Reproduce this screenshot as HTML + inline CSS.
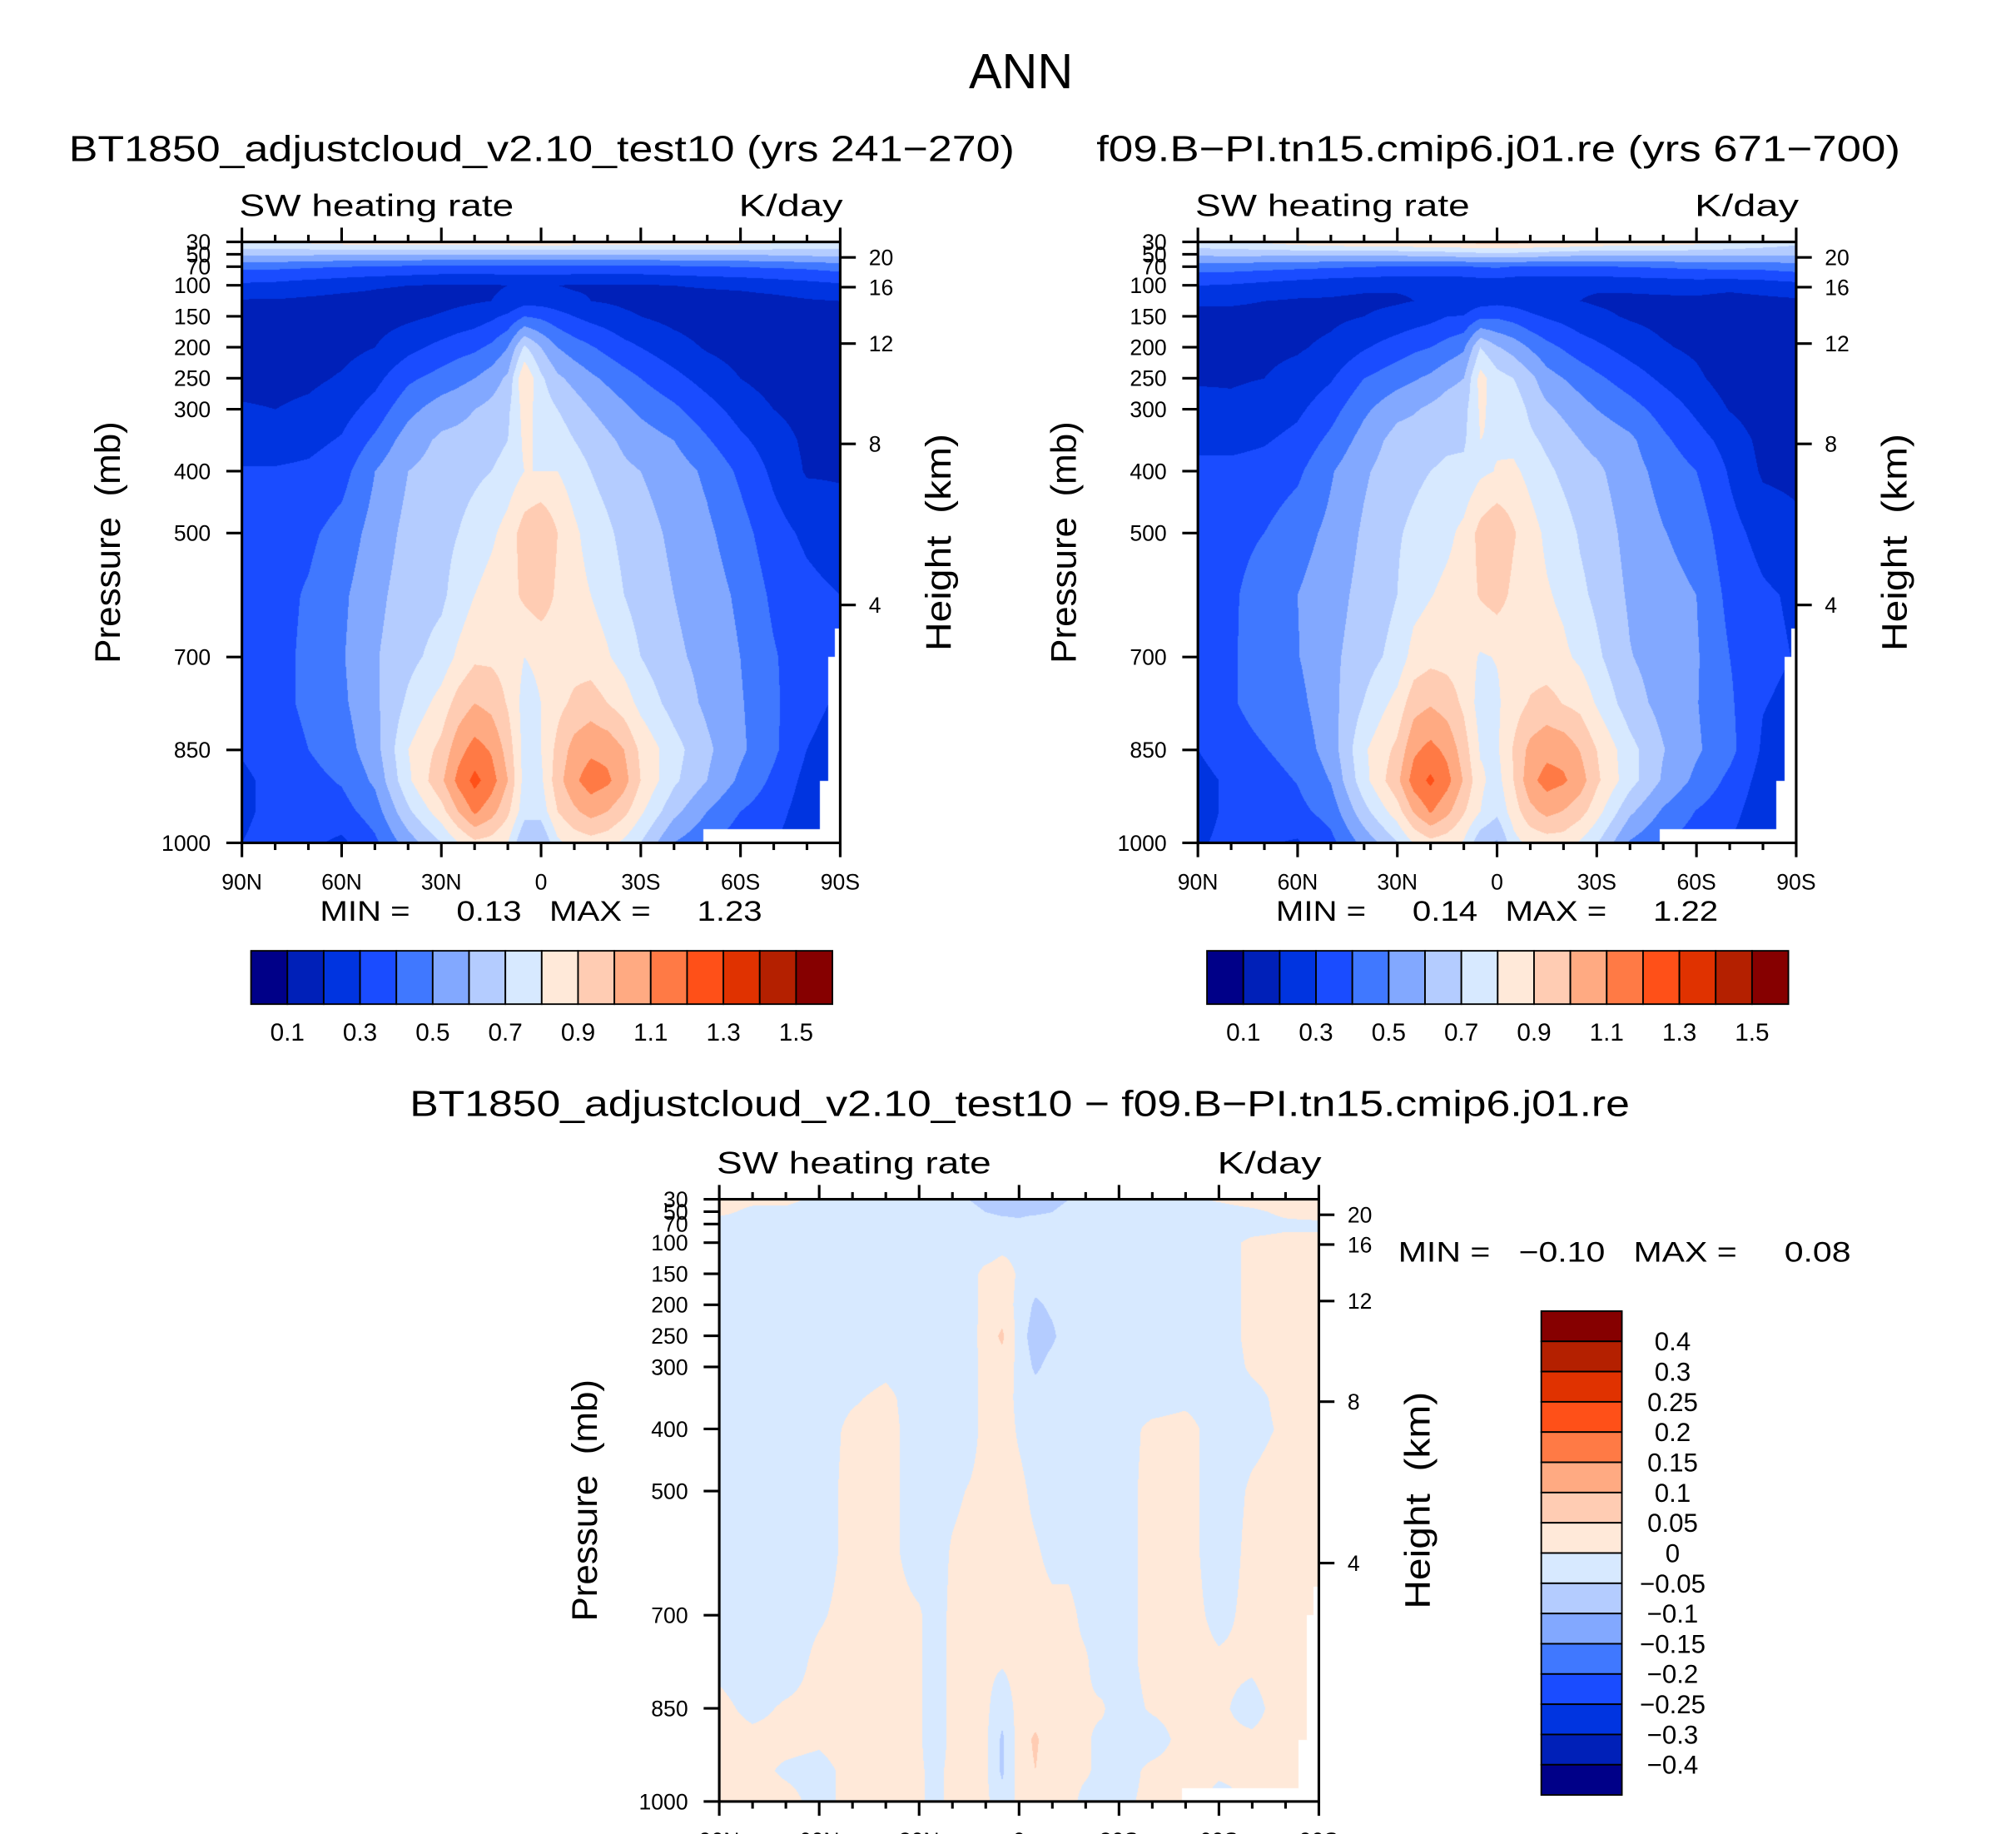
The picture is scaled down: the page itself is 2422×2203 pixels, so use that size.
<!DOCTYPE html>
<html><head><meta charset="utf-8">
<style>
html,body{margin:0;padding:0;background:#fff;}
#page{position:relative;width:2422px;height:2203px;overflow:hidden;background:#fff;}
canvas{position:absolute;}
svg{position:absolute;left:0;top:0;}
text{font-family:"Liberation Sans",sans-serif;fill:#000;white-space:pre;}
</style></head>
<body>
<div id="page">
<canvas id="c1"></canvas>
<canvas id="c2"></canvas>
<canvas id="c3"></canvas>
<svg id="svg" width="2422" height="2203" viewBox="0 0 1550 1410" preserveAspectRatio="none"></svg>
</div>
<script>
// ---------- data ----------
const lats=[90,80,70,60,50,40,30,25,20,15,10,5,0,-5,-10,-15,-20,-25,-30,-40,-50,-60,-70,-80,-90];
const pres=[30,50,70,100,125,150,200,250,300,350,400,500,600,700,775,850,900,950,1000];
// Panel 1 values (K/day), one array per latitude column, top (30mb) to bottom (1000mb)
const p1_90N=[0.8,0.62,0.42,0.28,0.19,0.16,0.15,0.17,0.21,0.25,0.31,0.34,0.35,0.35,0.34,0.31,0.28,0.28,0.3];
const p1_80N=[0.8,0.62,0.42,0.27,0.19,0.16,0.15,0.17,0.2,0.25,0.31,0.36,0.37,0.37,0.37,0.35,0.33,0.33,0.34];
const p1_70N=[0.82,0.61,0.41,0.25,0.18,0.16,0.16,0.18,0.22,0.27,0.32,0.38,0.41,0.42,0.42,0.4,0.37,0.35,0.32];
const p1_60N=[0.84,0.6,0.4,0.23,0.17,0.15,0.17,0.21,0.26,0.31,0.36,0.44,0.48,0.49,0.48,0.45,0.41,0.36,0.28];
const p1_50N=[0.85,0.6,0.39,0.21,0.17,0.16,0.2,0.27,0.34,0.42,0.5,0.54,0.57,0.59,0.58,0.56,0.52,0.45,0.38];
const p1_40N=[0.86,0.6,0.38,0.2,0.16,0.18,0.27,0.38,0.47,0.55,0.6,0.63,0.65,0.67,0.72,0.8,0.78,0.68,0.55];
const p1_30N=[0.86,0.6,0.37,0.19,0.17,0.21,0.33,0.44,0.55,0.62,0.64,0.67,0.68,0.74,0.84,0.93,0.98,0.86,0.7];
const p1_25N=[0.86,0.6,0.37,0.19,0.18,0.23,0.36,0.47,0.57,0.63,0.66,0.7,0.74,0.82,0.94,1.06,1.13,1.0,0.8];
const p1_20N=[0.86,0.6,0.37,0.19,0.19,0.25,0.38,0.5,0.6,0.64,0.68,0.74,0.8,0.88,1.0,1.14,1.23,1.12,0.88];
const p1_15N=[0.86,0.6,0.37,0.19,0.2,0.28,0.42,0.55,0.63,0.66,0.7,0.78,0.84,0.88,0.97,1.09,1.15,1.04,0.86];
const p1_10N=[0.86,0.6,0.37,0.2,0.22,0.32,0.5,0.62,0.68,0.7,0.74,0.84,0.86,0.86,0.89,0.96,1.0,0.92,0.8];
const p1_5N=[0.87,0.6,0.37,0.21,0.26,0.4,0.72,0.9,0.84,0.82,0.8,0.95,0.92,0.8,0.76,0.76,0.76,0.74,0.6];
const p1_EQ=[0.87,0.6,0.37,0.21,0.26,0.38,0.6,0.72,0.76,0.78,0.8,1.0,0.96,0.82,0.8,0.8,0.78,0.74,0.6];
const p1_5S=[0.87,0.6,0.37,0.2,0.24,0.34,0.5,0.62,0.7,0.75,0.8,0.9,0.88,0.84,0.87,0.93,0.96,0.9,0.78];
const p1_10S=[0.86,0.6,0.37,0.19,0.22,0.3,0.45,0.57,0.65,0.7,0.75,0.82,0.84,0.86,0.92,1.04,1.08,0.98,0.84];
const p1_15S=[0.86,0.6,0.37,0.19,0.2,0.27,0.41,0.52,0.6,0.66,0.7,0.76,0.8,0.85,0.95,1.08,1.15,1.04,0.86];
const p1_20S=[0.86,0.6,0.37,0.19,0.19,0.25,0.37,0.48,0.56,0.62,0.66,0.72,0.76,0.81,0.9,1.07,1.12,1.0,0.84];
const p1_25S=[0.86,0.6,0.37,0.19,0.18,0.22,0.33,0.44,0.52,0.58,0.62,0.67,0.7,0.76,0.85,1.0,1.04,0.93,0.78];
const p1_30S=[0.86,0.6,0.37,0.19,0.17,0.2,0.3,0.4,0.48,0.55,0.6,0.64,0.66,0.7,0.77,0.88,0.9,0.82,0.7];
const p1_40S=[0.86,0.6,0.38,0.2,0.16,0.17,0.24,0.33,0.42,0.5,0.55,0.58,0.6,0.62,0.66,0.74,0.72,0.63,0.5];
const p1_50S=[0.85,0.6,0.39,0.21,0.16,0.15,0.19,0.26,0.34,0.41,0.48,0.52,0.55,0.57,0.58,0.62,0.6,0.5,0.42];
const p1_60S=[0.84,0.6,0.4,0.22,0.16,0.14,0.16,0.2,0.26,0.32,0.38,0.44,0.48,0.5,0.51,0.52,0.48,0.4,0.34];
const p1_70S=[0.82,0.61,0.41,0.24,0.17,0.14,0.14,0.16,0.2,0.25,0.28,0.34,0.38,0.41,0.42,0.42,0.38,0.34,0.3];
const p1_80S=[0.8,0.62,0.42,0.26,0.19,0.15,0.13,0.14,0.16,0.18,0.19,0.28,0.33,0.34,0.32,0.3,0.27,0.25,0.25];
const p1_90S=[0.78,0.63,0.44,0.28,0.2,0.16,0.14,0.14,0.15,0.17,0.19,0.24,0.3,0.31,0.29,0.27,0.25,0.24,0.24];
// Difference (panel1 - panel2), K/day
const d_90N=[0.02,0.01,-0.02,-0.02,-0.02,-0.02,-0.02,-0.02,-0.02,-0.02,-0.02,-0.02,-0.02,-0.02,-0.01,0.01,0.015,0.015,0.015];
const d_80N=[0.01,-0.01,-0.02,-0.02,-0.02,-0.02,-0.02,-0.02,-0.02,-0.02,-0.02,-0.02,-0.02,-0.02,-0.02,-0.01,0.01,0.01,0.01];
const d_70N=[0.01,-0.01,-0.02,-0.02,-0.02,-0.02,-0.02,-0.02,-0.02,-0.02,-0.02,-0.02,-0.02,-0.02,-0.02,0.005,0.01,-0.005,0.01];
const d_60N=[-0.01,-0.02,-0.02,-0.02,-0.02,-0.02,-0.02,-0.02,-0.02,-0.02,-0.02,-0.02,-0.02,-0.005,0.01,0.01,0.005,-0.01,-0.01];
const d_50N=[-0.02,-0.02,-0.02,-0.02,-0.02,-0.02,-0.02,-0.02,-0.02,-0.005,0.01,0.015,0.015,0.015,0.015,0.015,0.015,0.01,0.01];
const d_40N=[-0.03,-0.02,-0.02,-0.02,-0.02,-0.02,-0.02,-0.02,-0.01,0.01,0.015,0.015,0.015,0.015,0.015,0.015,0.015,0.015,0.015];
const d_30N=[-0.03,-0.02,-0.02,-0.02,-0.02,-0.02,-0.02,-0.02,-0.02,-0.02,-0.02,-0.02,-0.02,0.005,0.005,0.005,0.005,0.005,0.005];
const d_25N=[-0.04,-0.03,-0.02,-0.02,-0.02,-0.02,-0.02,-0.02,-0.02,-0.02,-0.02,-0.02,-0.02,-0.02,-0.02,-0.02,-0.02,-0.01,-0.01];
const d_20N=[-0.05,-0.03,-0.02,-0.02,-0.02,-0.02,-0.02,-0.02,-0.02,-0.02,-0.02,-0.01,0.005,0.01,0.01,0.01,0.01,0.01,0.01];
const d_15N=[-0.05,-0.04,-0.02,-0.02,-0.02,-0.02,-0.02,-0.02,-0.02,-0.02,-0.02,0.003,0.015,0.015,0.015,0.015,0.015,0.015,0.015];
const d_10N=[-0.06,-0.05,-0.02,-0.02,-0.01,0.015,0.015,0.02,0.015,0.015,0.015,0.015,0.015,0.01,0.01,0.01,0.01,0.01,0.01];
const d_5N=[-0.06,-0.06,-0.03,-0.02,0.005,0.02,0.02,0.06,0.025,0.02,0.02,0.015,0.01,0.01,0.005,-0.03,-0.06,-0.06,-0.03];
const d_EQ=[-0.06,-0.06,-0.04,-0.02,-0.01,-0.005,-0.01,-0.02,-0.01,-0.01,-0.005,0.01,0.015,0.015,0.015,0.015,0.02,0.02,0.01];
const d_5S=[-0.06,-0.06,-0.02,-0.02,-0.02,-0.02,-0.06,-0.08,-0.06,-0.02,-0.02,-0.01,0.005,0.015,0.015,0.02,0.06,0.05,0.015];
const d_10S=[-0.06,-0.05,-0.02,-0.02,-0.02,-0.02,-0.04,-0.06,-0.03,-0.02,-0.02,-0.02,-0.01,0.01,0.01,0.01,0.01,0.01,0.01];
const d_15S=[-0.05,-0.04,-0.02,-0.02,-0.02,-0.02,-0.02,-0.02,-0.02,-0.02,-0.02,-0.02,-0.01,0.01,0.01,0.01,0.01,0.01,0.01];
const d_20S=[-0.05,-0.03,-0.02,-0.02,-0.02,-0.02,-0.02,-0.02,-0.02,-0.02,-0.02,-0.02,-0.02,-0.01,0.005,0.005,0.005,0.005,-0.01];
const d_25S=[-0.03,-0.02,-0.02,-0.02,-0.02,-0.02,-0.02,-0.02,-0.02,-0.02,-0.02,-0.02,-0.02,-0.02,-0.02,0.005,-0.01,-0.01,-0.01];
const d_30S=[-0.02,-0.02,-0.02,-0.02,-0.02,-0.02,-0.02,-0.02,-0.02,-0.02,-0.02,-0.02,-0.02,-0.02,-0.02,-0.02,-0.02,-0.02,-0.01];
const d_40S=[-0.01,-0.02,-0.02,-0.02,-0.02,-0.02,-0.02,-0.02,-0.02,-0.02,0.01,0.015,0.015,0.015,0.015,0.005,-0.02,0.01,0.01];
const d_50S=[-0.01,-0.02,-0.02,-0.02,-0.02,-0.02,-0.02,-0.02,-0.02,-0.01,0.015,0.015,0.015,0.015,0.015,0.015,0.015,0.015,0.015];
const d_60S=[0.005,-0.02,-0.02,-0.02,-0.02,-0.02,-0.02,-0.02,-0.02,-0.02,-0.02,-0.02,-0.02,-0.01,0.005,0.005,0.005,0.005,-0.01];
const d_70S=[0.02,-0.01,-0.02,0.01,0.01,0.01,0.01,0.01,0.005,-0.01,-0.01,0.005,0.01,0.01,0.005,-0.01,0.005,0.005,0.005];
const d_80S=[0.03,0.01,-0.01,0.015,0.015,0.015,0.015,0.015,0.015,0.01,0.005,0.015,0.015,0.015,0.015,0.015,0.01,0.01,0.01];
const d_90S=[0.05,0.02,-0.01,0.015,0.015,0.015,0.015,0.015,0.015,0.015,0.015,0.015,0.015,0.015,0.015,0.015,0.015,0.015,0.015];
// below-surface mask (steps): lat <= maskLat[k] && p >= maskP[k]
const maskLat=[-48.9,-84.1,-86.5,-88.6];
const maskP=[979,901,700,654];
// contour levels & colours
const levelsAbs=[0.1,0.2,0.3,0.4,0.5,0.6,0.7,0.8,0.9,1.0,1.1,1.2,1.3,1.4,1.5];
const levelsDiff=[-0.4,-0.3,-0.25,-0.2,-0.15,-0.1,-0.05,0,0.05,0.1,0.15,0.2,0.25,0.3,0.4];
const palette=["#000088","#0020b8","#0034e0","#1a4cff","#4078ff","#82a8ff","#b4ccff","#d7e9ff","#ffe9d9","#ffccb3","#ffaa82","#ff7a45","#ff5018","#e03200","#b42000","#860000"];
const absTickLabels=["0.1","0.3","0.5","0.7","0.9","1.1","1.3","1.5"];
const diffTickLabels=["0.4","0.3","0.25","0.2","0.15","0.1","0.05","0","\u22120.05","\u22120.1","\u22120.15","\u22120.2","\u22120.25","\u22120.3","\u22120.4"];
const pTicks=[30,50,70,100,150,200,250,300,400,500,700,850,1000];
const hTicks=[20,16,12,8,4];
const hTickP=[55,103,194,356,616];
const latTickLabels=["90N","60N","30N","0","30S","60S","90S"];

const P1=[p1_90N,p1_80N,p1_70N,p1_60N,p1_50N,p1_40N,p1_30N,p1_25N,p1_20N,p1_15N,p1_10N,p1_5N,p1_EQ,p1_5S,p1_10S,p1_15S,p1_20S,p1_25S,p1_30S,p1_40S,p1_50S,p1_60S,p1_70S,p1_80S,p1_90S];
const D=[d_90N,d_80N,d_70N,d_60N,d_50N,d_40N,d_30N,d_25N,d_20N,d_15N,d_10N,d_5N,d_EQ,d_5S,d_10S,d_15S,d_20S,d_25S,d_30S,d_40S,d_50S,d_60S,d_70S,d_80S,d_90S];
const P2=P1.map((col,i)=>col.map((v,j)=>v-D[i][j]));

// ---------- geometry (viewBox units 1550x1410) ----------
const SX=2422/1550, SY=2203/1410;
const panels=[
 {id:"c1",x0:186,x1:646,y0:186,y1:648,data:P1,levels:levelsAbs},
 {id:"c2",x0:921,x1:1381,y0:186,y1:648,data:P2,levels:levelsAbs},
 {id:"c3",x0:553,x1:1014,y0:922,y1:1385,data:D,levels:levelsDiff}
];
function xOf(pn,lat){return pn.x0+(90-lat)/180*(pn.x1-pn.x0);}
function yOf(pn,p){return pn.y0+(p-30)/970*(pn.y1-pn.y0);}
function bracket(arr,v,desc){
  for(let i=0;i<arr.length-1;i++){
    const a=arr[i],b=arr[i+1];
    if(desc? (v<=a&&v>=b):(v>=a&&v<=b)) return [i,(v-a)/(b-a)];
  }
  return [arr.length-2,1];
}
function sample(data,lat,p){
  const [i,fx]=bracket(lats,lat,true);
  const [j,fy]=bracket(pres,p,false);
  const v00=data[i][j],v10=data[i+1][j],v01=data[i][j+1],v11=data[i+1][j+1];
  return (v00*(1-fx)+v10*fx)*(1-fy)+(v01*(1-fx)+v11*fx)*fy;
}
function masked(lat,p){for(let k=0;k<maskLat.length;k++){if(lat<=maskLat[k]&&p>=maskP[k])return true;}return false;}
function colorIdx(v,levels){let c=0;for(const l of levels){if(v>=l)c++;}return c;}

const rgbs=palette.map(h=>[parseInt(h.substr(1,2),16),parseInt(h.substr(3,2),16),parseInt(h.substr(5,2),16)]);
panels.forEach(pn=>{
  const cv=document.getElementById(pn.id);
  const L=Math.round(pn.x0*SX),T=Math.round(pn.y0*SY);
  const W=Math.round(pn.x1*SX)-L,H=Math.round(pn.y1*SY)-T;
  cv.width=W;cv.height=H;cv.style.left=L+"px";cv.style.top=T+"px";
  const ctx=cv.getContext("2d");const img=ctx.createImageData(W,H);
  for(let py=0;py<H;py++){
    const p=30+(py+0.5)/H*970;
    for(let px=0;px<W;px++){
      const lat=90-(px+0.5)/W*180;
      const k=(py*W+px)*4;
      if(masked(lat,p)){img.data[k]=255;img.data[k+1]=255;img.data[k+2]=255;img.data[k+3]=255;continue;}
      const c=rgbs[colorIdx(sample(pn.data,lat,p),pn.levels)];
      img.data[k]=c[0];img.data[k+1]=c[1];img.data[k+2]=c[2];img.data[k+3]=255;
    }
  }
  ctx.putImageData(img,0,0);
});

// ---------- SVG overlay ----------
const NS="http://www.w3.org/2000/svg";
const svg=document.getElementById("svg");
function el(tag,attrs,parent){const e=document.createElementNS(NS,tag);for(const k in attrs)e.setAttribute(k,attrs[k]);(parent||svg).appendChild(e);return e;}
function txt(str,x,y,size,anchor,parent,extra){const t=el("text",Object.assign({x:x,y:y,"font-size":size,"text-anchor":anchor||"start"},extra||{}),parent);t.textContent=str;return t;}

const ttl=txt("ANN",785,68,38,"middle");



function drawAxes(pn,name,title,tx0,tx1,mmText,mmx,mmy,mmLen){
  const g=el("g",{});
  
  
  if(title){const t=txt(title,(tx0+tx1)/2,124,28,"middle",g,{textLength:tx1-tx0,lengthAdjust:"spacingAndGlyphs"});
    
    }
  const sw=txt("SW heating rate",pn.x0-2,pn.y0-20,24,"start",g,{textLength:211,lengthAdjust:"spacingAndGlyphs"});
  
  
  const ku=txt("K/day",pn.x1+2,pn.y0-20,24,"end",g,{textLength:80,lengthAdjust:"spacingAndGlyphs"});
  
  
  const fr=el("rect",{x:pn.x0,y:pn.y0,width:pn.x1-pn.x0,height:pn.y1-pn.y0,fill:"none",stroke:"#000","stroke-width":2},g);
  
  
  for(let lat=90;lat>=-90;lat-=10){
    const x=xOf(pn,lat);const major=(lat%30===0);const len=major?11:5.5;
    el("line",{x1:x,x2:x,y1:pn.y0,y2:pn.y0-len,stroke:"#000","stroke-width":2},g);
    el("line",{x1:x,x2:x,y1:pn.y1,y2:pn.y1+len,stroke:"#000","stroke-width":2},g);
  }
  latTickLabels.forEach((s,i)=>{const t=txt(s,xOf(pn,90-30*i),pn.y1+36,17,"middle",g);
    
    });
  pTicks.forEach(p=>{const y=yOf(pn,p);
    el("line",{x1:pn.x0,x2:pn.x0-12,y1:y,y2:y,stroke:"#000","stroke-width":2},g);
    const t=txt(String(p),pn.x0-24,y+6,17,"end",g);
    
    });
  hTicks.forEach((h,i)=>{const y=yOf(pn,hTickP[i]);
    el("line",{x1:pn.x1,x2:pn.x1+12,y1:y,y2:y,stroke:"#000","stroke-width":2},g);
    const t=txt(String(h),pn.x1+22,y+6,17,"start",g);
    
    });
  const cy=(pn.y0+pn.y1)/2;
  const yl=txt("Pressure  (mb)",0,0,27,"middle",g,{transform:`translate(${pn.x0-94},${cy}) rotate(-90)`,textLength:186,lengthAdjust:"spacingAndGlyphs"});
  
  
  const hl=txt("Height  (km)",0,0,27,"middle",g,{transform:`translate(${pn.x1+85},${cy}) rotate(-90)`,textLength:167,lengthAdjust:"spacingAndGlyphs"});
  
  
  const mm=txt(mmText,mmx,mmy,22,"start",g,{textLength:mmLen,lengthAdjust:"spacingAndGlyphs"});
  
  
  return g;
}
drawAxes(panels[0],"panel-model1","BT1850_adjustcloud_v2.10_test10 (yrs 241\u2212270)",53,780,"MIN =     0.13   MAX =     1.23",246,708,340);
drawAxes(panels[1],"panel-model2","f09.B\u2212PI.tn15.cmip6.j01.re (yrs 671\u2212700)",843,1461,"MIN =     0.14   MAX =     1.22",981,708,340);
drawAxes(panels[2],"panel-difference",null,0,0,"MIN =   \u22120.10   MAX =     0.08",1075,970,348);
const dt=txt("BT1850_adjustcloud_v2.10_test10 \u2212 f09.B\u2212PI.tn15.cmip6.j01.re",784,858,28,"middle",svg,{textLength:938,lengthAdjust:"spacingAndGlyphs"});



function hbar(x0,name){
  const g=el("g",{});
  
  
  const w=(640-193)/16;
  palette.forEach((c,i)=>{const r=el("rect",{x:x0+i*w,y:731,width:w,height:41,fill:c,stroke:"#000","stroke-width":1.2},g);
    
    });
  absTickLabels.forEach((s,i)=>{const t=txt(s,x0+(1+2*i)*w,800,19,"middle",g);
    
    });
}
hbar(193,"colorbar-model1");
hbar(928,"colorbar-model2");
(function(){
  const g=el("g",{});
  
  
  const y0=1008,y1=1380,h=(y1-y0)/16;
  for(let i=0;i<16;i++){const r=el("rect",{x:1185,y:y0+i*h,width:62,height:h,fill:palette[15-i],stroke:"#000","stroke-width":1.2},g);
    
    }
  diffTickLabels.forEach((s,i)=>{const t=txt(s,1286,y0+(i+1)*h+7,20,"middle",g);
    
    });
})();
</script>
</body></html>
